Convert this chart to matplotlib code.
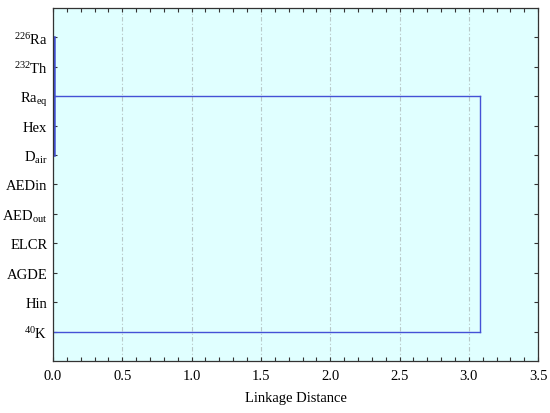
import numpy as np
import matplotlib
matplotlib.use('Agg')
import matplotlib.pyplot as plt
from matplotlib.ticker import MultipleLocator, FormatStrFormatter

plt.rcParams['font.family'] = 'Liberation Serif'
plt.rcParams['mathtext.fontset'] = 'custom'
plt.rcParams['mathtext.rm'] = 'Liberation Serif'
plt.rcParams['mathtext.it'] = 'Liberation Serif'

# leaf order (top to bottom) of the tree diagram
leaves = [r'$^{226}$Ra', r'$^{232}$Th', r'Ra$_{eq}$', 'Hex', r'D$_{air}$',
          'AEDin', r'AED$_{out}$', 'ELCR', 'AGDE', 'Hin', r'$^{40}$K']

# first cluster: leaves 0..4 joined at a near-zero distance
small_first, small_last = 0, 4
small_dist = 0.008
# final join of that cluster (drawn from Ra_eq level) with 40K
final_dist = 3.08
final_from, final_to = 2, 10

col = '#4451D6'

fig = plt.figure(figsize=(5.5, 4.14), dpi=100)
ax = fig.add_axes([0.0964, 0.1256, 0.882, 0.853])
ax.set_facecolor('#E0FFFF')

ypos = np.arange(1, len(leaves) + 1)

# near-zero cluster
ax.plot([small_dist, small_dist], [ypos[small_first], ypos[small_last]], color=col, lw=1.8)
for i in range(small_first, small_last + 1):
    ax.plot([0, small_dist], [ypos[i], ypos[i]], color=col, lw=1.0)

# final join
ax.plot([small_dist, final_dist], [ypos[final_from], ypos[final_from]], color=col, lw=1.0)
ax.plot([final_dist, final_dist], [ypos[final_from], ypos[final_to]], color=col, lw=1.0)
ax.plot([0, final_dist], [ypos[final_to], ypos[final_to]], color=col, lw=1.0)

ax.set_xlim(0, 3.5)
ax.set_ylim(len(leaves) + 1, 0)
ax.set_yticks(ypos)
ax.set_yticklabels(leaves, fontsize=10.5)
ax.xaxis.set_major_locator(MultipleLocator(0.5))
ax.xaxis.set_minor_locator(MultipleLocator(0.1))
ax.xaxis.set_major_formatter(FormatStrFormatter('%.1f'))
for lab in ax.get_xticklabels():
    lab.set_fontsize(10.5)
ax.tick_params(axis='x', labelsize=10.5)
ax.tick_params(axis='both', which='both', direction='in', top=True, right=True,
               length=3, width=0.8, color='#333333')
ax.tick_params(axis='x', which='major', pad=6)
ax.tick_params(axis='y', pad=4)
ax.grid(axis='x', which='major', color='#B8C8C8', linestyle=(0, (4, 2, 1, 2)), lw=0.8)
ax.set_axisbelow(True)
for s in ax.spines.values():
    s.set_color('#333333')
    s.set_linewidth(0.9)

ax.set_xlabel('Linkage Distance', fontsize=10.5, labelpad=6)

fig.savefig('out.png', dpi=100)
